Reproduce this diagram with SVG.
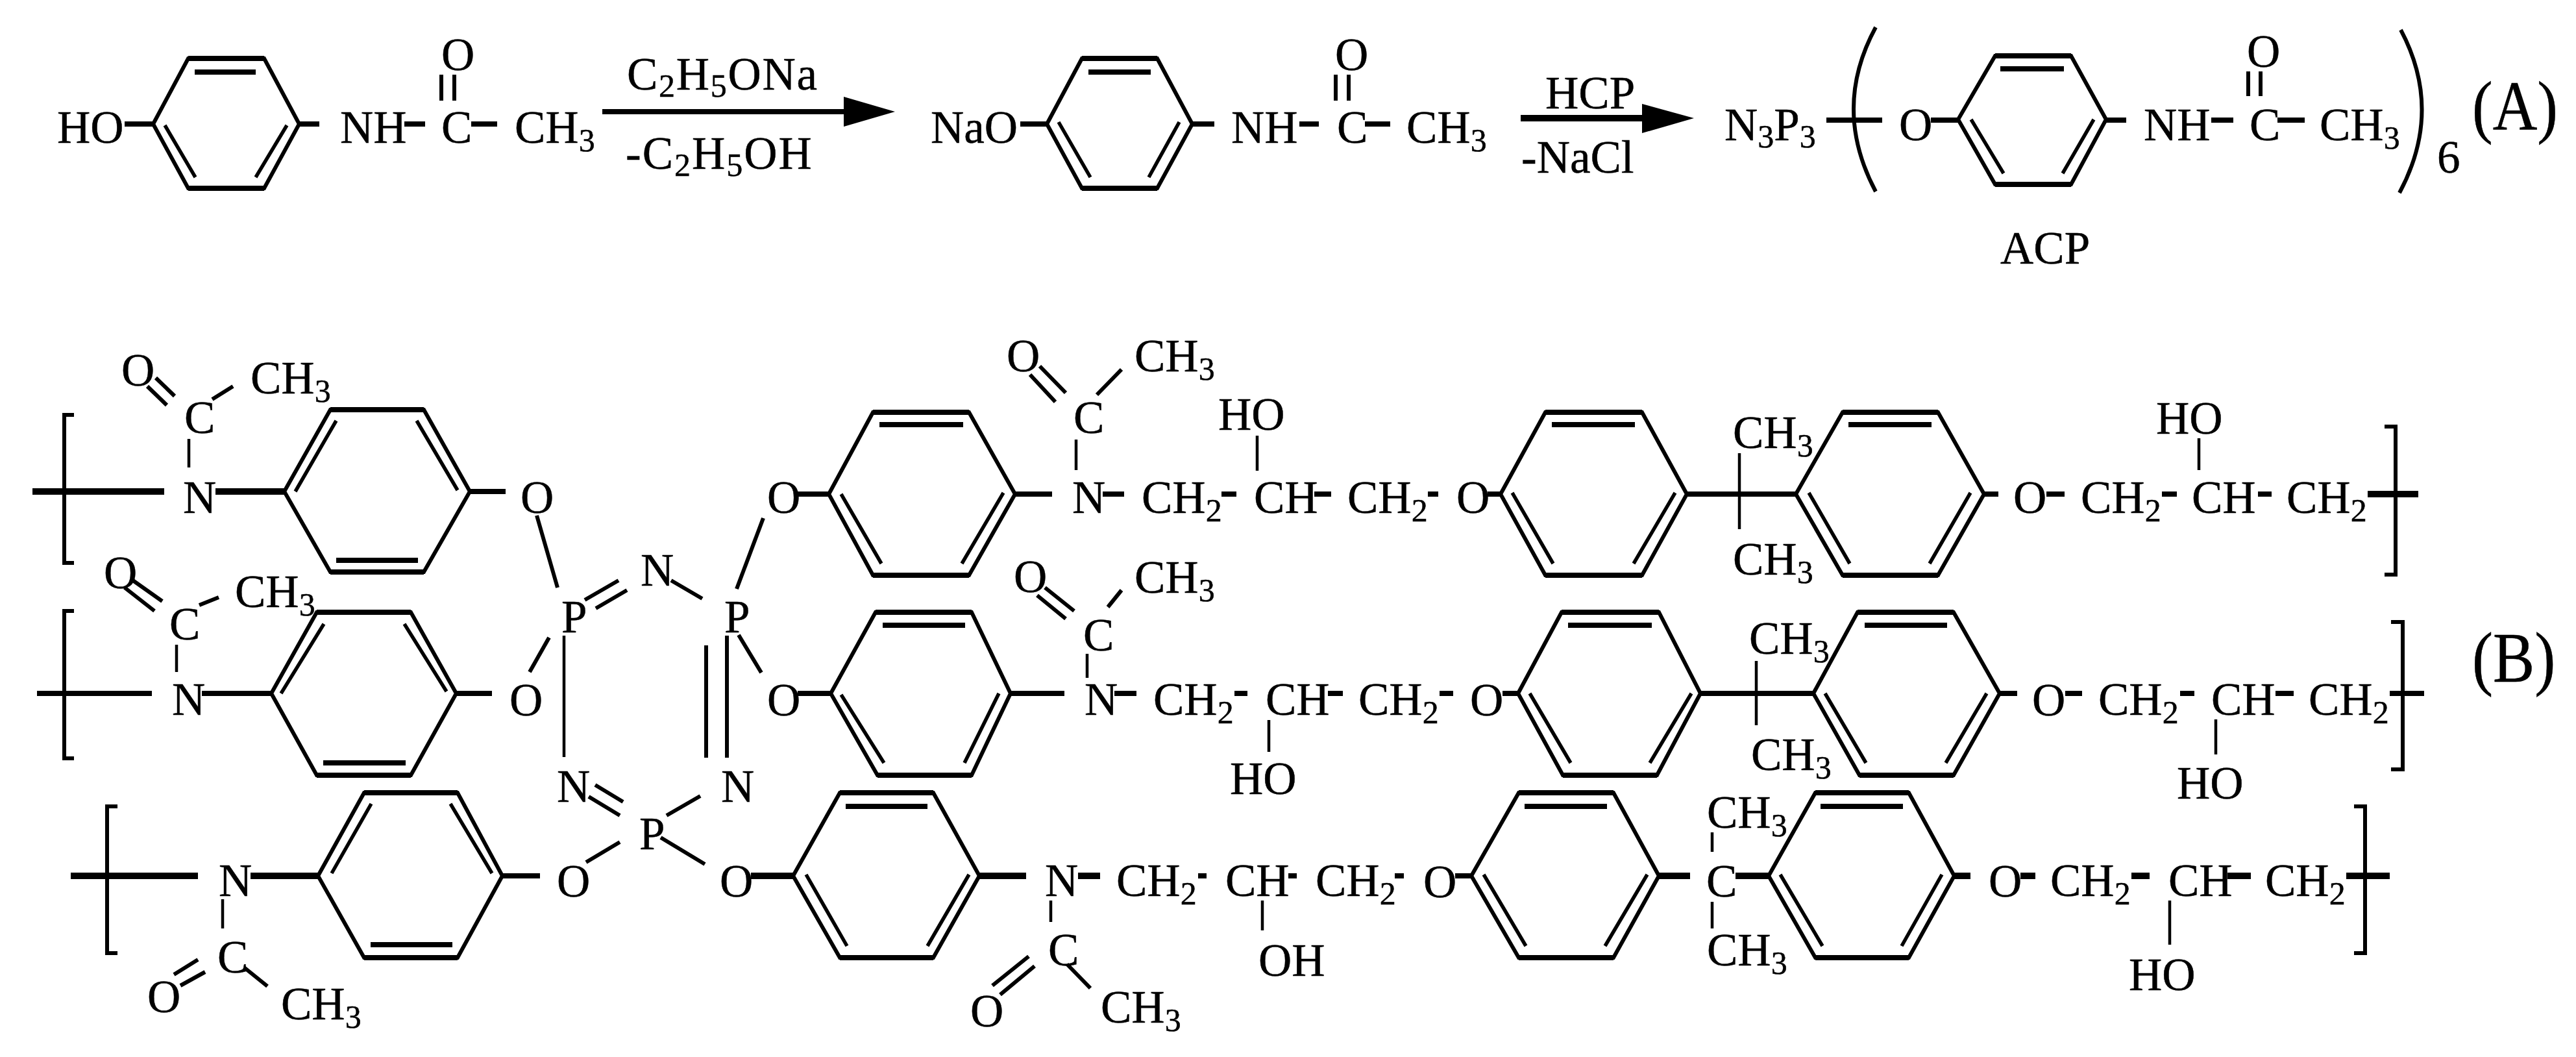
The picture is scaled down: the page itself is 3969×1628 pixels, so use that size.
<svg xmlns="http://www.w3.org/2000/svg" width="3969" height="1628" viewBox="0 0 3969 1628">
<style>
text{font-family:"Liberation Serif","Times New Roman",serif;font-size:71px;fill:#000;stroke:#000;stroke-width:.5}
.s{font-size:50px}
g.ring polygon{fill:none;stroke:#000;stroke-width:6;stroke-linejoin:miter}
g.ring path{fill:none;stroke:#000;stroke-width:5.5}
g.ring path.h{stroke-width:8}
#bonds path,#brackets path{fill:none;stroke:#000;stroke-width:6}
#bonds path.b{stroke-width:8}
#bonds path.t{stroke-width:10}
#bonds path.n{stroke-width:4.5}
.head{fill:#000}
</style>
<rect width="3969" height="1628" fill="#fff"/>
<g id="ring-a1" class="ring"><polygon points="236,191 290,90 407,90 461,191 407,290 290,290"/><path class="h" d="M300 111H394M290 90H407M290 290H407"/><path d="M254 193L301 273M442 193L394 273"/></g>
<g id="ring-a2" class="ring"><polygon points="1613,191 1667,90 1783,90 1837,191 1783,290 1667,290"/><path class="h" d="M1677 111H1773M1667 90H1783M1667 290H1783"/><path d="M1631 188L1680 273M1817 188L1770 273"/></g>
<g id="ring-a3" class="ring"><polygon points="3017,184 3074,86 3191,86 3245,184 3191,284 3074,284"/><path class="h" d="M3082 106H3180M3074 86H3191M3074 284H3191"/><path d="M3037 184L3087 267M3226 184L3178 267"/></g>
<g id="ring-b11" class="ring"><polygon points="438,757 509,631 653,631 724,757 653,881 509,881"/><path class="h" d="M518 863H644M509 631H653M509 881H653"/><path d="M518 648L455 757M642 648L705 755"/></g>
<g id="ring-b12" class="ring"><polygon points="1277,761 1345,635 1493,635 1564,761 1493,886 1345,886"/><path class="h" d="M1355 654H1484M1345 635H1493M1345 886H1493"/><path d="M1546 759L1482 868M1358 868L1296 761"/></g>
<g id="ring-b13" class="ring"><polygon points="2312,761 2381,635 2530,635 2599,761 2530,886 2381,886"/><path class="h" d="M2391 654H2519M2381 635H2530M2381 886H2530"/><path d="M2330 759L2393 868M2581 759L2517 868"/></g>
<g id="ring-b14" class="ring"><polygon points="2767,761 2839,635 2986,635 3057,761 2986,886 2839,886"/><path class="h" d="M2848 654H2976M2839 635H2986M2839 886H2986"/><path d="M2787 759L2850 868M3036 759L2973 868"/></g>
<g id="ring-b21" class="ring"><polygon points="418,1068 488,943 633,943 703,1068 633,1194 488,1194"/><path class="h" d="M498 1175H625M488 943H633M488 1194H633"/><path d="M499 961L433 1068M623 961L688 1065"/></g>
<g id="ring-b22" class="ring"><polygon points="1280,1068 1349,943 1497,943 1557,1068 1497,1194 1352,1194"/><path class="h" d="M1360 963H1487M1349 943H1497M1352 1194H1497"/><path d="M1539 1068L1486 1175M1362 1175L1296 1070"/></g>
<g id="ring-b23" class="ring"><polygon points="2339,1068 2406,943 2556,943 2620,1068 2553,1194 2408,1194"/><path class="h" d="M2416 963H2545M2406 943H2556M2408 1194H2553"/><path d="M2357 1068L2420 1175M2606 1068L2542 1175"/></g>
<g id="ring-b24" class="ring"><polygon points="2794,1068 2862,943 3010,943 3081,1068 3010,1194 2865,1194"/><path class="h" d="M2873 963H3000M2862 943H3010M2865 1194H3010"/><path d="M2812 1068L2875 1175M3061 1068L2998 1175"/></g>
<g id="ring-b31" class="ring"><polygon points="490,1349 561,1221 705,1221 774,1349 705,1475 561,1475"/><path class="h" d="M571 1455H697M561 1221H705M561 1475H705"/><path d="M572 1238L511 1345M694 1238L758 1345"/></g>
<g id="ring-b32" class="ring"><polygon points="1222,1349 1294,1221 1438,1221 1509,1349 1438,1475 1294,1475"/><path class="h" d="M1303 1242H1429M1294 1221H1438M1294 1475H1438"/><path d="M1242 1347L1305 1457M1493 1347L1429 1457"/></g>
<g id="ring-b33" class="ring"><polygon points="2267,1349 2340,1221 2486,1221 2556,1349 2486,1475 2340,1475"/><path class="h" d="M2349 1242H2476M2340 1221H2486M2340 1475H2486"/><path d="M2286 1347L2351 1457M2538 1347L2473 1457"/></g>
<g id="ring-b34" class="ring"><polygon points="2725,1349 2797,1221 2941,1221 3011,1349 2941,1475 2797,1475"/><path class="h" d="M2805 1242H2932M2797 1221H2941M2797 1475H2941"/><path d="M2743 1347L2808 1457M2992 1347L2930 1457"/></g>

<g id="brackets">
<path d="M2890 42Q2822 167 2890 295"/>
<path d="M3699 46Q3765 170 3697 297"/>
<path d="M114 639H99V867H114"/>
<path d="M114 941H99V1168H114"/>
<path d="M181 1242H165V1468H181"/>
<path d="M3674 657H3691V885H3674"/>
<path d="M3684 958H3702V1185H3684"/>
<path d="M3627 1242H3644V1468H3627"/>
</g>

<g id="bonds">
<path class="b" d="M192 191H236"/><path class="b" d="M461 191H492"/><path class="b" d="M623 191H655"/><path class="b" d="M726 191H766"/>
<path d="M680 115V155"/><path d="M700 115V155"/>
<path class="b" d="M928 172H1305"/><polygon class="head" points="1300,149 1379,172 1300,195"/>
<path class="b" d="M1572 191H1613"/><path class="b" d="M1837 191H1871"/><path class="b" d="M2002 191H2032"/><path class="b" d="M2103 191H2142"/>
<path d="M2058 115V155"/><path d="M2078 115V155"/>
<path class="t" d="M2343 182H2535"/><polygon class="head" points="2530,160 2610,182 2530,205"/>
<path class="b" d="M2814 185H2900"/><path class="b" d="M2975 185H3017"/><path class="b" d="M3245 185H3276"/><path class="b" d="M3407 185H3441"/><path class="b" d="M3509 185H3551"/>
<path d="M3464 110V148"/><path d="M3483 110V148"/>

<path class="t" d="M50 757H253"/><path class="t" d="M332 757H438"/><path class="b" d="M724 757H779"/>
<path class="n" d="M291 676V720"/>
<path d="M240 582L269 610"/><path d="M227 595L257 624"/><path d="M327 615L359 595"/>
<path d="M827 794L859 905"/>
<path d="M901 924L953 894"/><path d="M918 937L966 909"/><path d="M1034 894L1082 922"/>
<path d="M1176 798L1135 907"/>
<path class="b" d="M1229 761H1277"/><path class="b" d="M1564 761H1621"/><path class="b" d="M1699 761H1732"/><path class="b" d="M1882 761H1905"/><path class="b" d="M2025 761H2051"/><path class="b" d="M2200 761H2216"/><path class="b" d="M2292 761H2312"/>
<path class="n" d="M1658 677V724"/><path d="M1602 564L1642 605"/><path d="M1587 577L1626 619"/><path d="M1690 608L1728 569"/>
<path class="n" d="M1937 671V725"/>
<path class="b" d="M2599 761H2767"/><path class="n" d="M2680 698V815"/>
<path class="b" d="M3057 761H3079"/><path class="b" d="M3153 761H3181"/><path class="b" d="M3331 761H3354"/><path class="b" d="M3479 761H3500"/><path class="t" d="M3648 761H3726"/>
<path class="n" d="M3388 675V724"/>

<path class="b" d="M57 1068H234"/><path class="b" d="M311 1068H418"/><path class="b" d="M703 1068H758"/>
<path class="n" d="M272 993V1035"/>
<path d="M202 892L250 926"/><path d="M192 905L238 941"/><path d="M307 932L337 920"/>
<path d="M846 982L816 1035"/>
<path class="n" d="M869 979V1166"/>
<path d="M1088 994V1167"/><path d="M1120 979V1167"/>
<path d="M1138 978L1173 1036"/>
<path class="b" d="M1229 1068H1280"/><path class="b" d="M1557 1068H1640"/><path class="b" d="M1717 1068H1751"/><path class="b" d="M1902 1068H1922"/><path class="b" d="M2046 1068H2069"/><path class="b" d="M2218 1068H2239"/><path class="b" d="M2315 1068H2339"/>
<path class="n" d="M1675 1007V1044"/><path d="M1610 905L1655 941"/><path d="M1598 917L1642 953"/><path d="M1707 935L1728 909"/>
<path class="n" d="M1955 1109V1158"/>
<path class="b" d="M2620 1068H2794"/><path class="n" d="M2706 1018V1117"/>
<path class="b" d="M3081 1068H3108"/><path class="b" d="M3182 1068H3208"/><path class="b" d="M3359 1068H3381"/><path class="b" d="M3506 1068H3534"/><path class="b" d="M3682 1068H3735"/>
<path class="n" d="M3414 1108V1162"/>

<path d="M917 1209L960 1235"/><path d="M907 1227L955 1256"/><path d="M1027 1256L1079 1226"/>
<path d="M955 1297L903 1328"/><path d="M1018 1290L1086 1331"/>
<path class="t" d="M109 1349H305"/><path class="t" d="M386 1349H490"/><path class="b" d="M774 1349H832"/>
<path class="n" d="M343 1385V1430"/><path d="M268 1501L305 1478"/><path d="M278 1518L316 1497"/><path d="M376 1490L412 1519"/>
<path class="t" d="M1157 1349H1222"/><path class="t" d="M1509 1349H1581"/><path class="t" d="M1661 1349H1695"/><path class="b" d="M1846 1349H1859"/><path class="b" d="M1985 1349H1998"/><path class="b" d="M2149 1349H2163"/><path class="b" d="M2242 1349H2267"/>
<path class="n" d="M1619 1387V1420"/><path d="M1585 1473L1529 1518"/><path d="M1594 1488L1541 1532"/><path d="M1644 1485L1680 1522"/>
<path class="n" d="M1945 1387V1433"/>
<path class="t" d="M2556 1349H2604"/><path class="t" d="M2674 1349H2725"/><path class="n" d="M2638 1282V1312"/><path class="n" d="M2638 1389V1430"/>
<path class="t" d="M3011 1349H3036"/><path class="t" d="M3113 1349H3136"/><path class="t" d="M3284 1349H3312"/><path class="t" d="M3432 1349H3468"/><path class="t" d="M3615 1349H3682"/>
<path class="n" d="M3343 1387V1455"/>
</g>

<g id="labels">
<text x="88" y="220">HO</text>
<text x="524" y="220">NH</text>
<text x="680" y="220">C</text>
<text x="680" y="108">O</text>
<text x="793" y="220">CH<tspan class="s" dy="13">3</tspan></text>
<text x="966" y="138" letter-spacing="1.7">C<tspan class="s" dy="11">2</tspan><tspan dy="-11">H</tspan><tspan class="s" dy="11">5</tspan><tspan dy="-11">ONa</tspan></text>
<text x="964" y="260" letter-spacing="2">-C<tspan class="s" dy="11">2</tspan><tspan dy="-11">H</tspan><tspan class="s" dy="11">5</tspan><tspan dy="-11">OH</tspan></text>
<text x="1434" y="220">NaO</text>
<text x="1897" y="220">NH</text>
<text x="2060" y="220">C</text>
<text x="2057" y="108">O</text>
<text x="2167" y="220">CH<tspan class="s" dy="13">3</tspan></text>
<text x="2381" y="167">HCP</text>
<text x="2344" y="266">-NaCl</text>
<text x="2657" y="216">N<tspan class="s" dy="11">3</tspan><tspan dy="-11">P</tspan><tspan class="s" dy="11">3</tspan></text>
<text x="2926" y="216">O</text>
<text x="3303" y="216">NH</text>
<text x="3466" y="216">C</text>
<text x="3462" y="103">O</text>
<text x="3574" y="216">CH<tspan class="s" dy="13">3</tspan></text>
<text x="3755" y="266">6</text>
<text transform="translate(3809,200) scale(.88,1)" x="0" y="0" style="font-size:108px">(A)</text>
<text x="3082" y="406">ACP</text>

<text x="282" y="790">N</text><text x="284" y="667">C</text><text x="187" y="594">O</text>
<text x="386" y="606">CH<tspan class="s" dy="13">3</tspan></text>
<text x="802" y="790">O</text>
<text x="865" y="974">P</text><text x="987" y="902">N</text><text x="1116" y="974">P</text>
<text x="1182" y="790">O</text>
<text x="1652" y="790">N</text><text x="1654" y="667">C</text><text x="1551" y="572">O</text>
<text x="1748" y="572">CH<tspan class="s" dy="13">3</tspan></text>
<text x="1877" y="662">HO</text>
<text x="1759" y="790">CH<tspan class="s" dy="13">2</tspan></text>
<text x="1932" y="790">CH</text>
<text x="2076" y="790">CH<tspan class="s" dy="13">2</tspan></text>
<text x="2244" y="790">O</text>
<text x="2670" y="690">CH<tspan class="s" dy="13">3</tspan></text>
<text x="2670" y="885">CH<tspan class="s" dy="13">3</tspan></text>
<text x="3102" y="790">O</text>
<text x="3206" y="790">CH<tspan class="s" dy="13">2</tspan></text>
<text x="3377" y="790">CH</text>
<text x="3523" y="790">CH<tspan class="s" dy="13">2</tspan></text>
<text x="3322" y="668">HO</text>

<text x="261" y="985">C</text><text x="160" y="906">O</text>
<text x="362" y="935">CH<tspan class="s" dy="13">3</tspan></text>
<text x="265" y="1101">N</text>
<text x="785" y="1102">O</text><text x="1182" y="1102">O</text>
<text x="858" y="1235">N</text><text x="1111" y="1235">N</text>
<text x="1669" y="1002">C</text><text x="1562" y="912">O</text>
<text x="1748" y="913">CH<tspan class="s" dy="13">3</tspan></text>
<text x="1671" y="1101">N</text>
<text x="1777" y="1101">CH<tspan class="s" dy="13">2</tspan></text>
<text x="1950" y="1101">CH</text>
<text x="2093" y="1101">CH<tspan class="s" dy="13">2</tspan></text>
<text x="2265" y="1102">O</text>
<text x="1895" y="1223">HO</text>
<text x="2695" y="1007">CH<tspan class="s" dy="13">3</tspan></text>
<text x="2698" y="1186">CH<tspan class="s" dy="13">3</tspan></text>
<text x="3131" y="1102">O</text>
<text x="3233" y="1101">CH<tspan class="s" dy="13">2</tspan></text>
<text x="3407" y="1101">CH</text>
<text x="3557" y="1101">CH<tspan class="s" dy="13">2</tspan></text>
<text x="3354" y="1230">HO</text>
<text transform="translate(3809,1050) scale(.875,1)" x="0" y="0" style="font-size:110px">(B)</text>

<text x="985" y="1308">P</text>
<text x="858" y="1381">O</text><text x="1109" y="1381">O</text>
<text x="337" y="1380">N</text><text x="335" y="1498">C</text><text x="227" y="1559">O</text>
<text x="433" y="1570">CH<tspan class="s" dy="13">3</tspan></text>
<text x="1610" y="1380">N</text>
<text x="1720" y="1380">CH<tspan class="s" dy="13">2</tspan></text>
<text x="1888" y="1380">CH</text>
<text x="2027" y="1380">CH<tspan class="s" dy="13">2</tspan></text>
<text x="2193" y="1382">O</text>
<text x="1615" y="1487">C</text><text x="1495" y="1581">O</text>
<text x="1696" y="1575">CH<tspan class="s" dy="13">3</tspan></text>
<text x="1939" y="1503">OH</text>
<text x="2629" y="1381">C</text>
<text x="2630" y="1275">CH<tspan class="s" dy="13">3</tspan></text>
<text x="2630" y="1487">CH<tspan class="s" dy="13">3</tspan></text>
<text x="3064" y="1381">O</text>
<text x="3159" y="1380">CH<tspan class="s" dy="13">2</tspan></text>
<text x="3341" y="1380">CH</text>
<text x="3490" y="1380">CH<tspan class="s" dy="13">2</tspan></text>
<text x="3280" y="1525">HO</text>
</g>
</svg>
